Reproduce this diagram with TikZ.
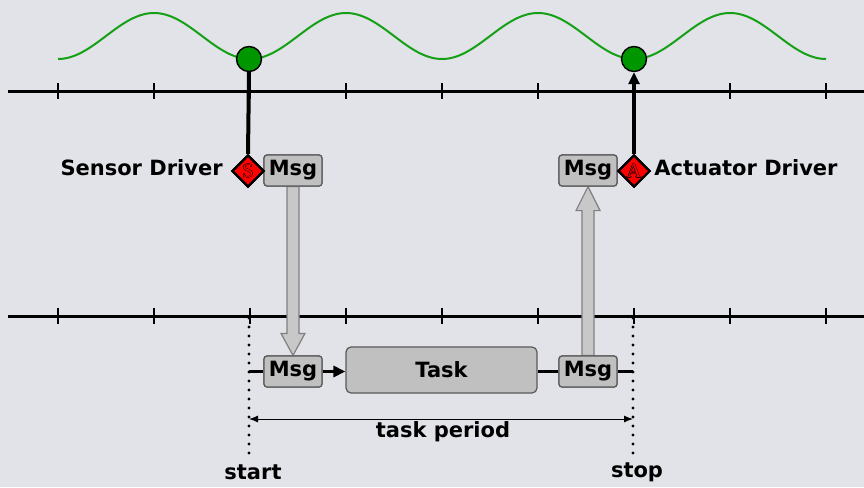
\documentclass[tikz,border=0pt]{standalone}
\usepackage{fontspec}
\setmainfont{DejaVu Sans}
\newfontfamily\dialetter{Liberation Serif}
\usetikzlibrary{shapes.geometric,arrows.meta,calc,positioning}
\definecolor{bg}{RGB}{226,227,233}
\definecolor{boxgray}{RGB}{192,192,192}
\definecolor{arrowgray}{RGB}{200,200,200}
\definecolor{wavegreen}{RGB}{20,160,20}
\definecolor{dotgreen}{RGB}{0,150,0}
\newcommand\outlinedletter[1]{\leavevmode
  \rlap{\kern0.4pt\textcolor{black}{#1}}%
  \rlap{\kern-0.4pt\textcolor{black}{#1}}%
  \rlap{\raisebox{0.4pt}{\textcolor{black}{#1}}}%
  \rlap{\raisebox{-0.4pt}{\textcolor{black}{#1}}}%
  \rlap{\kern0.3pt\raisebox{0.3pt}{\textcolor{black}{#1}}}%
  \rlap{\kern-0.3pt\raisebox{-0.3pt}{\textcolor{black}{#1}}}%
  \rlap{\kern0.3pt\raisebox{-0.3pt}{\textcolor{black}{#1}}}%
  \rlap{\kern-0.3pt\raisebox{0.3pt}{\textcolor{black}{#1}}}%
  \textcolor{red}{#1}}
\begin{document}
\begin{tikzpicture}[x=1pt,y=-1pt,
  font=\fontsize{21}{24}\selectfont\bfseries,
  axis/.style={line width=3pt, black},
  tickmark/.style={line width=1.6pt, black},
  wave/.style={wavegreen, line width=2pt},
  dot/.style={circle, draw=black, line width=1.4pt, fill=dotgreen, minimum size=25pt, inner sep=0pt},
  dia/.style={diamond, draw=black, line width=2.2pt, fill=red, minimum width=32pt, minimum height=32pt, inner sep=0pt, aspect=1, font=\fontsize{20}{20}\selectfont\dialetter\mdseries},
  drv/.style={line width=4pt, black},
  msgbox/.style={draw=black!65, fill=boxgray, rounded corners=3pt, minimum width=58pt, minimum height=31pt, inner sep=0pt, line width=1.2pt},
  taskbox/.style={draw=black!65, fill=boxgray, rounded corners=5pt, minimum width=191pt, minimum height=46pt, inner sep=0pt, line width=1.2pt},
  flow/.style={line width=3.8pt, black},
  bigarrow/.style={draw=black!50, fill=arrowgray, line width=1.2pt, line join=miter},
  dots/.style={line width=3.2pt, dash pattern=on 0pt off 9pt, line cap=round},
  period/.style={line width=1pt, {Latex[length=9pt,width=7pt]}-{Latex[length=9pt,width=7pt]}},
  lbl/.style={inner sep=0pt}
]
\fill[bg] (0,0) rectangle (864,487);
\useasboundingbox (0,0) rectangle (864,487);

% axes
\draw[axis] (8,91) -- (864,91);
\draw[axis] (8,316) -- (864,316);
\foreach \x in {58,154,...,826} {
  \draw[tickmark] (\x,83) -- (\x,99);
  \draw[tickmark] (\x,308) -- (\x,324);
}

% wave
\draw[wave] plot[domain=0:768, samples=300, smooth] ({58+\x}, {36+23*cos(1.875*\x)});

% boxes
\node[msgbox] (m1) at (293,170.5) {Msg};
\node[msgbox] (m2) at (588,170.5) {Msg};
\node[msgbox] (m3) at (293,371.5) {Msg};
\node[msgbox] (m4) at (588,371.5) {Msg};
\node[taskbox] (task) at (441.5,370) {Task};

% big hollow arrows
\draw[bigarrow] ($(m1.south)+(-6,0)$) -- ($(m3.north)+(-6,-22)$) -- ($(m3.north)+(-12,-22)$)
  -- (m3.north) -- ($(m3.north)+(12,-22)$) -- ($(m3.north)+(6,-22)$) -- ($(m1.south)+(6,0)$) -- cycle;
\draw[bigarrow] ($(m4.north)+(-6,0)$) -- ($(m2.south)+(-6,24)$) -- ($(m2.south)+(-12,24)$)
  -- (m2.south) -- ($(m2.south)+(12,24)$) -- ($(m2.south)+(6,24)$) -- ($(m4.north)+(6,0)$) -- cycle;

% redraw boxes on top
\node[msgbox] at (m1) {Msg};
\node[msgbox] at (m2) {Msg};
\node[msgbox] at (m3) {Msg};
\node[msgbox] at (m4) {Msg};

% sensor / actuator
\node[dot] (c1) at (249,59) {};
\node[dot] (c2) at (634,59) {};
\node[dia] (s) at (248,171) {\outlinedletter{S}};
\node[dia] (a) at (634,171) {\outlinedletter{A}};
\draw[drv] (s.north) -- (c1.south);
\draw[drv, -{Triangle[length=12pt,width=11pt]}] (a.north) -- (c2.south);
\node[dia] at (s) {\outlinedletter{S}};
\node[dia] at (a) {\outlinedletter{A}};
\node[lbl, anchor=east] (sl) at ($(s.west)+(-8,-3)$) {Sensor Driver};
\node[lbl, anchor=west] (al) at ($(a.east)+(3,-3)$) {Actuator Driver};

% start / stop
\coordinate (sTop) at (249,318);
\coordinate (eTop) at (633,318);
\node[lbl] (start) at (253,472) {start};
\node[lbl] (stop) at (637,472) {stop};
\draw[dots] (sTop) -- (sTop |- 0,459);
\draw[dots] (eTop) -- (eTop |- 0,459);

% flow
\coordinate (fin) at (sTop |- m3);
\coordinate (fout) at (eTop |- m4);
\draw[flow] (fin) -- (m3.west);
\draw[flow, -{Triangle[length=12pt,width=11pt]}] (m3.east) -- (task.west |- m3);
\draw[flow] (task.east |- m4) -- (m4.west);
\draw[flow] (m4.east) -- (fout);

% period
\coordinate (pA) at (sTop |- 0,419);
\coordinate (pB) at (eTop |- 0,419);
\draw[period] (pA) -- (pB);
\node[lbl] (tp) at (443,432) {task period};
\end{tikzpicture}
\end{document}
